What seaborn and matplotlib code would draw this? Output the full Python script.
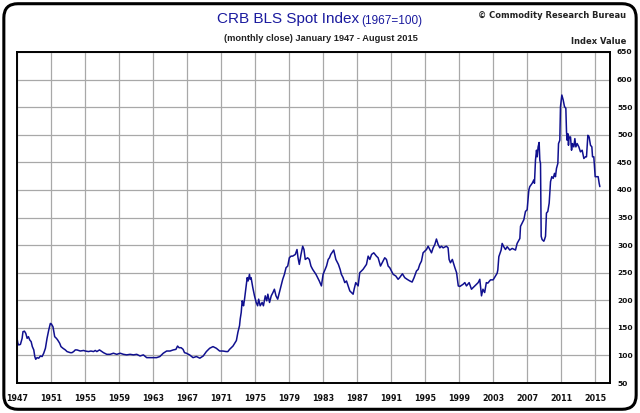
import matplotlib
matplotlib.use("Agg")
import matplotlib.pyplot as plt
from matplotlib.patches import FancyBboxPatch
import seaborn as sns
import pandas as pd

# ---- data (decimal year, index value) ----
years_1 = [1947.0, 1947.1, 1947.2, 1947.4, 1947.6, 1947.7, 1947.87, 1948.03, 1948.19, 1948.34,
           1948.5, 1948.66, 1948.8, 1948.97, 1949.09, 1949.2, 1949.36, 1949.55, 1949.75, 1949.95,
           1950.14, 1950.34, 1950.53, 1950.73, 1950.92, 1951.04, 1951.23, 1951.43, 1951.63, 1951.78,
           1952.02, 1952.17, 1952.4, 1952.68, 1952.88, 1953.27, 1953.46, 1953.66, 1953.85, 1954.05,
           1954.44, 1954.83, 1955.02, 1955.41, 1955.69, 1956.0, 1956.2, 1956.39, 1956.7, 1956.98,
           1957.17, 1957.56, 1957.95, 1958.34, 1958.73, 1959.13, 1959.52, 1959.9, 1960.3, 1960.69,
           1961.08, 1961.47, 1961.86, 1962.25, 1962.64, 1963.03, 1963.42, 1963.8, 1964.2, 1964.6,
           1965.0, 1965.38, 1965.69, 1965.88]
values_1 = [131, 122, 119, 120, 131, 143, 144, 140, 131, 134,
            128, 125, 116, 110, 98, 93, 96, 95, 99, 98,
            104, 113, 131, 146, 158, 157, 152, 134, 131, 128,
            122, 116, 113, 110, 107, 105, 105, 107, 110, 110,
            108, 109, 108, 107, 108, 107, 109, 107, 110, 107,
            105, 102, 102, 104, 102, 104, 102, 101, 102, 101,
            102, 99, 101, 96, 96, 96, 96, 98, 104, 108,
            108, 110, 111, 117]

years_2 = [1966.06, 1966.3, 1966.53, 1966.7, 1966.92, 1967.3, 1967.7, 1968.1, 1968.5, 1968.9,
           1969.27, 1969.66, 1970.05, 1970.44, 1970.83, 1971.2, 1971.6, 1971.8, 1972.0, 1972.4,
           1972.8, 1972.98, 1973.17, 1973.25, 1973.37, 1973.48, 1973.56, 1973.64, 1973.76, 1973.95,
           1974.07, 1974.18, 1974.34, 1974.42, 1974.53, 1974.73, 1974.93, 1975.13, 1975.3, 1975.42,
           1975.6, 1975.83, 1975.98, 1976.2, 1976.37, 1976.5, 1976.7, 1976.9, 1977.1, 1977.27,
           1977.46, 1977.66, 1977.86, 1978.25, 1978.45, 1978.64, 1978.84, 1979.03, 1979.23, 1979.42,
           1979.73, 1979.93, 1980.05, 1980.2, 1980.4, 1980.6, 1980.75, 1980.9, 1981.18, 1981.38,
           1981.57, 1981.77, 1982.16, 1982.55]
values_2 = [114, 114, 111, 105, 104, 101, 96, 98, 95, 99,
            107, 113, 116, 113, 108, 108, 107, 107, 111, 117,
            127, 142, 154, 166, 178, 199, 196, 190, 202, 226,
            241, 235, 247, 238, 241, 223, 208, 196, 190, 202,
            190, 196, 190, 208, 199, 211, 196, 208, 214, 220,
            208, 202, 214, 238, 247, 259, 262, 277, 280, 280,
            283, 292, 277, 265, 283, 298, 292, 274, 277, 274,
            262, 256, 247, 235]

years_3 = [1982.8, 1983.0, 1983.4, 1983.6, 1983.75, 1983.9, 1984.25, 1984.5, 1984.8, 1985.0,
           1985.15, 1985.35, 1985.55, 1985.75, 1985.94, 1986.14, 1986.33, 1986.53, 1986.65, 1986.84,
           1987.12, 1987.31, 1987.7, 1988.1, 1988.3, 1988.5, 1988.7, 1988.96, 1989.27, 1989.47,
           1989.75, 1989.95, 1990.25, 1990.45, 1990.65, 1990.84, 1991.04, 1991.24, 1991.55, 1991.82,
           1992.0, 1992.33, 1992.6, 1992.88, 1993.2, 1993.47, 1993.7, 1993.98, 1994.18, 1994.37,
           1994.57, 1994.76, 1994.96, 1995.16, 1995.35, 1995.55, 1995.75, 1995.94, 1996.14, 1996.33,
           1996.53, 1996.73, 1996.92, 1997.12, 1997.5, 1997.7, 1997.82, 1997.98, 1998.2, 1998.5,
           1998.7, 1998.9, 1999.08, 1999.47, 1999.67, 1999.86, 2000.18, 2000.45, 2000.84, 2001.24,
           2001.43, 2001.63, 2001.8, 2002.0, 2002.2]
values_3 = [226, 247, 262, 274, 277, 283, 291, 274, 265, 256,
            247, 241, 232, 235, 226, 217, 214, 211, 220, 232,
            226, 250, 256, 265, 280, 274, 283, 286, 280, 277,
            262, 268, 277, 274, 262, 259, 253, 247, 244, 238,
            241, 248, 241, 238, 235, 233, 241, 253, 256, 265,
            271, 286, 289, 292, 298, 292, 286, 295, 301, 311,
            301, 295, 298, 295, 298, 295, 274, 268, 274, 259,
            250, 226, 225, 229, 232, 226, 232, 220, 226, 232,
            238, 208, 220, 214, 232]

years_4 = [2002.37, 2002.69, 2003.0, 2003.47, 2003.55, 2003.67, 2003.94, 2004.06, 2004.25, 2004.45,
           2004.65, 2004.96, 2005.24, 2005.63, 2005.82, 2006.14, 2006.22, 2006.41, 2006.61, 2006.8,
           2007.0, 2007.2, 2007.31, 2007.59, 2007.78, 2007.86, 2007.98, 2008.1, 2008.18, 2008.29,
           2008.41, 2008.49, 2008.57, 2008.65, 2008.76, 2008.96, 2009.04, 2009.16, 2009.27, 2009.43,
           2009.59, 2009.75, 2009.9, 2010.06, 2010.22, 2010.33, 2010.45, 2010.61, 2010.69, 2010.84,
           2010.92, 2011.08, 2011.24, 2011.39, 2011.55, 2011.63, 2011.71, 2011.78, 2011.86, 2011.94,
           2012.1, 2012.22, 2012.33, 2012.49, 2012.61, 2012.73, 2012.88, 2013.08, 2013.27, 2013.47,
           2013.67, 2013.86, 2013.98, 2014.14, 2014.29, 2014.45, 2014.61, 2014.69, 2014.84, 2015.0,
           2015.16, 2015.35, 2015.47, 2015.55]
values_4 = [231, 237, 237, 249, 255, 279, 291, 303, 297, 292,
            297, 291, 294, 291, 303, 312, 334, 340, 346, 361,
            364, 400, 406, 412, 418, 412, 454, 472, 460, 478,
            486, 454, 448, 316, 310, 307, 310, 316, 358, 361,
            376, 415, 424, 421, 430, 424, 439, 448, 484, 490,
            551, 572, 563, 551, 548, 505, 490, 502, 481, 496,
            496, 472, 484, 478, 493, 478, 484, 478, 469, 472,
            457, 460, 460, 499, 496, 481, 478, 460, 460, 424,
            424, 424, 412, 406]

x_ticks = list(range(1947, 2016, 4))
y_ticks = list(range(50, 651, 50))

title = "CRB BLS Spot Index"
title_small = "(1967=100)"
subtitle = "(monthly close) January 1947 - August 2015"
credit = "\u00a9 Commodity Research Bureau"
y_label = "Index Value"

# ---- build frame ----
df = pd.DataFrame({
    "year": years_1 + years_2 + years_3 + years_4,
    "value": values_1 + values_2 + values_3 + values_4,
})

sns.set_style("white")
narrow = ["Liberation Sans", "DejaVu Sans"]
wide = ["DejaVu Sans"]
plt.rcParams["font.family"] = narrow

fig = plt.figure(figsize=(6.4, 4.13), dpi=100)
ax = fig.add_axes([0.0266, 0.0726, 0.9266, 0.8015])

sns.lineplot(data=df, x="year", y="value", ax=ax, color="#10108f",
             linewidth=1.1, estimator=None, sort=True)

ax.set_xlim(1947.0, 2016.75)
ax.set_ylim(50, 650)
ax.set_xticks(x_ticks)
ax.set_yticks(y_ticks)
ax.set_xticklabels([str(t) for t in x_ticks])
ax.set_yticklabels([str(t) for t in y_ticks])
ax.yaxis.tick_right()
ax.tick_params(axis="both", length=0)
ax.tick_params(axis="x", pad=8, labelsize=5.8)
ax.tick_params(axis="y", pad=5, labelsize=5.4)
for lbl in ax.get_xticklabels() + ax.get_yticklabels():
    lbl.set_fontweight("bold")
    lbl.set_fontfamily(wide)
    lbl.set_color("#111111")
ax.grid(True, color="#a8a8a8", linewidth=0.9)
ax.set_axisbelow(True)
ax.set_xlabel("")
ax.set_ylabel("")
for s in ax.spines.values():
    s.set_visible(True)
    s.set_color("black")
    s.set_linewidth(1.4)

# titles
fig.text(0.561, 0.953, title, ha="right", va="center", fontsize=11,
         color="#1a1a9e", family=narrow)
fig.text(0.565, 0.950, title_small, ha="left", va="center", fontsize=8.5,
         color="#1a1a9e", family=narrow)
fig.text(0.502, 0.907, subtitle, ha="center", va="center", fontsize=6.7,
         fontweight="bold", color="#222222", family=narrow)
fig.text(0.979, 0.963, credit, ha="right", va="center", fontsize=6,
         fontweight="bold", color="#222222", family=wide)
fig.text(0.979, 0.899, y_label, ha="right", va="center", fontsize=6,
         fontweight="bold", color="#222222", family=wide)

# rounded outer border
border = FancyBboxPatch((0.006, 0.009), 0.988, 0.982,
                        boxstyle="round,pad=0,rounding_size=0.022",
                        mutation_aspect=640 / 413,
                        transform=fig.transFigure, fill=False,
                        edgecolor="black", linewidth=2.2)
fig.patches.append(border)

fig.savefig("out.png", dpi=100)
